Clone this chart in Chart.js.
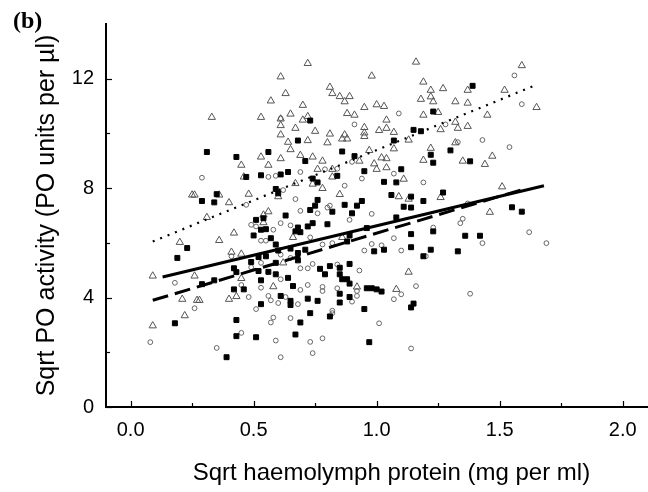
<!DOCTYPE html>
<html>
<head>
<meta charset="utf-8">
<script src="https://cdn.jsdelivr.net/npm/chart.js@4.4.1/dist/chart.umd.min.js"></script>
<style>
  html, body { margin: 0; padding: 0; background: #fff; overflow: hidden; }
  #wrap { width: 648px; height: 492px; overflow: hidden; }
</style>
</head>
<body>
<div id="wrap"><canvas id="chart" width="682" height="492"></canvas></div>
<script>
// open triangles
const triangles = [
  [0.57,11.19],[0.33,10.59],[0.53,10.59],[0.53,9.14],[0.45,8.84],[0.56,8.84],
  [0.72,12.56],[0.61,12.07],[0.98,12.10],[1.16,12.61],[0.81,11.69],[0.63,11.46],[0.82,11.46],
  [0.85,11.35],[0.89,11.35],[0.87,11.16],[0.70,11.03],[1.19,11.88],[1.22,11.58],[1.22,11.34],
  [1.27,11.64],[1.18,11.25],[1.23,11.16],[0.95,10.95],[1.00,11.05],[1.03,10.99],[0.65,10.71],
  [0.61,10.53],[0.70,10.49],[0.72,10.62],[0.88,10.73],[0.91,10.67],[1.04,10.49],[1.19,10.67],
  [0.61,10.29],[0.67,10.19],[0.75,10.08],[0.81,9.98],[0.87,9.95],[0.95,10.22],[0.95,10.02],
  [0.95,9.89],[1.01,10.11],[1.04,10.19],[1.07,10.04],[0.61,9.95],[0.64,9.68],[0.72,9.74],
  [0.80,9.66],[0.86,9.80],[0.88,9.80],[0.65,9.41],[0.69,9.20],[0.61,9.08],[0.74,9.14],
  [0.78,8.99],[0.97,9.38],[1.07,9.44],[1.13,9.76],[1.02,9.11],[1.04,9.08],[0.93,8.99],
  [0.99,8.89],[1.04,8.75],[1.00,8.69],[1.26,10.14],[1.22,9.46],[1.19,9.02],[0.76,8.69],
  [1.59,12.48],[1.37,11.58],[1.52,11.58],[1.32,11.16],[1.37,11.11],[1.65,10.95],[1.45,10.67],
  [1.25,10.77],[1.32,10.41],[1.33,10.19],[1.37,10.26],[1.32,9.66],[1.47,9.17],[1.35,8.99],
  [1.44,8.87],
  [0.46,8.41],[0.25,7.75],[0.26,7.75],[0.36,7.75],[0.48,7.78],[0.40,7.47],[0.31,6.93],
  [0.56,7.14],[0.54,7.02],[0.42,6.36],[0.36,6.09],[0.20,6.02],[0.41,5.66],[0.45,5.59],
  [0.26,4.79],[0.09,4.79],[0.45,4.70],[0.58,4.40],[0.54,6.74],
  [0.82,8.69],[0.67,8.17],[0.74,8.15],[0.78,7.99],[0.82,8.41],[1.11,8.33],[0.85,7.77],
  [0.60,7.69],[1.09,7.69],[1.13,7.60],[1.26,7.66],[0.66,6.20],[0.86,6.20],[0.62,5.27],
  [1.13,4.93],[0.92,4.39],[1.08,4.30],
  [1.51,8.05],[1.46,7.12],
  [0.21,3.94],[0.27,3.90],[0.28,3.90],[0.22,3.34],[0.09,2.97],[0.40,3.94],[0.43,4.04]
];

// open circles
const circles = [
  [0.61,10.55],[0.91,10.33],[1.09,10.73],[1.28,10.33],[0.79,8.69],[0.84,8.71],[0.90,8.96],
  [1.56,12.12],[1.59,11.07],[1.43,9.76],[1.54,9.50],[1.33,9.68],
  [0.29,8.38],[0.56,8.41],[0.59,8.45],[0.47,7.39],[0.49,6.66],[0.51,6.60],[0.58,6.48],
  [0.53,6.08],[0.55,6.08],[0.18,4.54],[0.41,5.51],[0.53,5.27],[0.49,5.11],[0.53,4.36],[0.45,4.46],
  [0.69,8.59],[0.87,8.09],[0.94,8.35],[1.07,8.53],[1.19,8.21],[0.62,7.93],[0.67,7.60],
  [0.69,7.17],[0.76,7.08],[0.80,7.29],[0.81,7.36],[0.98,7.06],[0.89,6.84],[0.61,6.72],
  [0.65,6.64],[0.73,6.20],[0.82,5.99],[0.78,5.94],[0.98,5.96],[1.02,5.91],[1.07,6.17],
  [1.23,6.56],[0.95,5.72],[1.10,5.72],[1.20,5.51],[0.61,5.57],[0.65,5.45],[0.69,5.07],
  [0.72,5.07],[0.61,4.67],[0.93,4.99],[0.74,5.23],[0.84,5.21],[0.78,4.39],[0.84,4.34],
  [0.72,4.46],[1.16,4.42],
  [1.37,7.44],[1.35,6.88],[1.34,6.72],[1.43,5.99],[1.62,6.39],[1.69,5.99],
  [0.26,3.61],[0.08,2.37],[0.48,4.02],[0.45,2.71],[0.35,2.16],[0.51,3.58],[0.56,4.06],
  [0.57,3.90],[0.58,3.27],[0.57,3.09],[0.59,2.43],
  [0.60,3.80],[0.63,4.02],[0.68,3.76],[0.69,4.28],[0.78,4.24],[0.92,4.24],[0.92,4.06],
  [0.90,3.85],[0.82,3.52],[0.82,3.43],[0.65,3.25],[1.07,3.94],[1.10,4.12],[1.01,3.06],
  [0.73,2.38],[0.78,2.51],[0.74,1.97],[0.61,1.82],[1.14,2.14],[1.38,4.14]
];

// filled squares
const squares = [
  [0.31,9.32],[0.43,9.14],[0.56,9.32],
  [0.73,10.47],[0.68,9.74],[0.86,9.34],[0.91,9.17],[0.71,8.99],[1.07,9.74],[1.15,10.13],
  [1.18,10.08],[1.23,10.80],[1.22,9.22],[1.23,8.93],[0.95,8.62],[1.10,8.69],[0.64,8.59],
  [1.39,11.74],[1.30,9.38],[1.38,8.98],
  [0.47,8.41],[0.53,8.47],[0.35,7.78],[0.29,7.53],[0.34,7.48],[0.51,6.84],[0.54,6.90],
  [0.53,6.48],[0.55,6.50],[0.50,6.27],[0.57,6.17],[0.59,5.94],[0.23,5.81],[0.19,5.45],
  [0.49,5.30],[0.52,5.48],[0.55,5.51],[0.42,5.07],[0.43,4.93],[0.52,4.97],[0.59,5.27],
  [0.56,4.94],[0.59,4.85],[0.53,4.63],[0.34,4.63],[0.29,4.49],[0.42,4.30],[0.46,4.30],
  [0.61,8.50],[0.74,8.35],[0.76,8.21],[0.84,8.45],[1.03,8.23],[1.08,8.21],[0.59,7.97],
  [0.60,7.81],[0.76,7.57],[0.75,7.36],[0.73,7.20],[0.82,7.14],[0.87,7.39],[0.92,7.36],
  [0.94,7.53],[0.90,7.08],[1.06,7.75],[1.11,7.32],[1.14,7.29],[1.14,7.69],[1.19,7.53],
  [1.27,7.84],[0.63,7.00],[0.74,6.72],[0.80,6.68],[0.72,6.60],[0.68,6.56],[0.67,6.42],
  [0.69,6.39],[0.89,6.27],[0.96,6.54],[1.08,6.93],[1.14,6.32],[1.23,6.42],[0.60,5.72],
  [0.65,5.79],[0.68,5.63],[0.71,5.75],[0.88,6.05],[0.99,5.69],[1.03,5.75],[1.14,5.84],
  [1.22,5.75],[1.19,5.51],[0.68,5.36],[0.77,5.05],[0.81,5.15],[0.85,5.09],[0.89,5.23],
  [0.64,4.72],[0.79,4.85],[0.85,4.85],[0.86,4.67],[0.88,4.67],[0.66,4.42],[0.89,4.51],
  [0.96,4.34],[0.98,4.34],[1.00,4.30],
  [1.55,7.30],[1.59,7.14],[1.36,6.26],[1.42,6.26],[1.33,5.69],
  [0.18,3.06],[0.53,3.76],[0.43,3.18],[0.43,2.59],[0.51,2.55],[0.39,1.82],
  [0.61,4.06],[0.65,3.88],[0.65,3.73],[0.72,3.96],[0.76,3.88],[0.85,4.14],[0.85,3.82],
  [0.89,4.02],[1.02,4.22],[1.15,3.78],[1.14,3.64],[0.95,3.58],[0.73,3.43],[0.81,3.31],
  [0.69,3.09],[0.67,2.65],[0.97,2.37]
];

// fitted lines (end points)
const fitDotted = [[0.09,6.05],[1.64,11.74]];
const fitSolid = [[0.13,4.75],[1.68,8.09]];
const fitDashed = [[0.09,3.90],[1.60,7.97]];

// axis ticks and labels
const xTicks = [0, 0.25, 0.5, 0.75, 1, 1.25, 1.5, 1.75, 2];
const xLabels = [0, 0.5, 1, 1.5, 2];
const yTicks = [0, 2, 4, 6, 8, 10, 12];
const yLabels = [0, 4, 8, 12];

const toPts = arr => arr.map(p => ({ x: p[0], y: p[1] }));
const isIn = (list, v) => list.some(t => Math.abs(t - v) < 1e-6);

Chart.defaults.font.family = "'Liberation Sans', Arial, sans-serif";
Chart.defaults.color = "#000";

// inward tick marks + panel letter
const extras = {
  id: "extras",
  afterDraw(chart) {
    const c = chart.ctx;
    const xs = chart.scales.x, ys = chart.scales.y;
    const a = chart.chartArea;
    c.save();
    c.strokeStyle = "#000";
    c.lineWidth = 1.2;
    xTicks.forEach(v => {
      const px = Math.round(xs.getPixelForValue(v)) + 0.5;
      const len = isIn(xLabels, v) ? 6 : 4;
      c.beginPath(); c.moveTo(px, a.bottom); c.lineTo(px, a.bottom - len); c.stroke();
    });
    yTicks.forEach(v => {
      const py = Math.round(ys.getPixelForValue(v)) + 0.5;
      const len = isIn(yLabels, v) ? 6 : 4;
      c.beginPath(); c.moveTo(a.left, py); c.lineTo(a.left + len, py); c.stroke();
    });
    c.fillStyle = "#000";
    c.font = "bold 24px 'Liberation Serif', 'Times New Roman', serif";
    c.textBaseline = "alphabetic";
    c.fillText("(b)", 13, 28);
    c.restore();
  }
};

const lineSet = (data, dash, width) => ({
  data: toPts(data),
  showLine: true,
  pointRadius: 0,
  borderColor: "#000",
  borderWidth: width,
  borderDash: dash,
  borderCapStyle: "butt",
  fill: false
});

const chart = new Chart(document.getElementById("chart").getContext("2d"), {
  type: "scatter",
  data: {
    datasets: [
      lineSet(fitDotted, [2, 6], 2.2),
      lineSet(fitSolid, [], 3),
      lineSet(fitDashed, [16, 7], 3),
      {
        data: toPts(squares),
        pointStyle: "rect",
        pointRadius: 3.5,
        pointBackgroundColor: "#000",
        pointBorderColor: "#000",
        pointBorderWidth: 1
      },
      {
        data: toPts(triangles),
        pointStyle: "triangle",
        pointRadius: 4.2,
        pointBackgroundColor: "rgba(0,0,0,0)",
        pointBorderColor: "#555",
        pointBorderWidth: 1
      },
      {
        data: toPts(circles),
        pointStyle: "circle",
        pointRadius: 2.4,
        pointBackgroundColor: "rgba(0,0,0,0)",
        pointBorderColor: "#666",
        pointBorderWidth: 1
      }
    ]
  },
  options: {
    responsive: false,
    animation: false,
    events: [],
    layout: { padding: { top: 20, right: 2, left: 0, bottom: 0 } },
    plugins: { legend: { display: false }, tooltip: { enabled: false } },
    scales: {
      x: {
        type: "linear",
        min: -0.1,
        max: 2.22,
        afterFit: s => { s.height = 85; },
        afterBuildTicks: s => { s.ticks = xTicks.map(v => ({ value: v })); },
        grid: { display: false, drawTicks: false, tickLength: 0 },
        border: { display: true, color: "#000", width: 2 },
        ticks: {
          autoSkip: false,
          maxRotation: 0,
          padding: 11,
          font: { size: 20 },
          callback: v => isIn(xLabels, v) ? v.toFixed(1) : ""
        },
        title: {
          display: true,
          text: "Sqrt haemolymph protein (mg per ml)",
          font: { size: 24 },
          padding: { top: 0, bottom: 4 }
        }
      },
      y: {
        type: "linear",
        min: 0,
        max: 14,
        afterFit: s => { s.width = 106; },
        afterBuildTicks: s => { s.ticks = yTicks.map(v => ({ value: v })); },
        grid: { display: false, drawTicks: false, tickLength: 0 },
        border: { display: true, color: "#000", width: 2 },
        ticks: {
          autoSkip: false,
          padding: 12,
          font: { size: 20 },
          callback: v => isIn(yLabels, v) ? String(v) : ""
        },
        title: {
          display: true,
          text: "Sqrt PO activity (PO units per µl)",
          font: { size: 25 },
          padding: { top: 32, bottom: 0 }
        }
      }
    }
  },
  plugins: [extras]
});
</script>
</body>
</html>
